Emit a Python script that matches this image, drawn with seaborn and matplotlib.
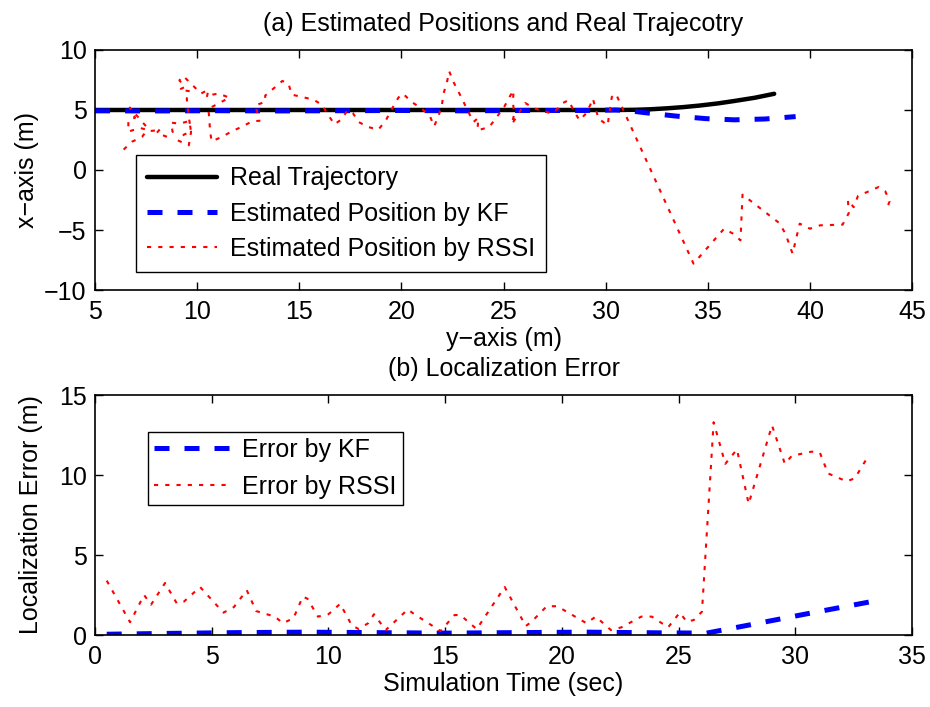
import numpy as np
import pandas as pd
import matplotlib
matplotlib.use("Agg")
import matplotlib.pyplot as plt
import seaborn as sns

# ---------------- data ----------------
# (a) trajectories: horizontal = y-axis (m), vertical = x-axis (m)
real_y = [5, 10, 15, 20, 25, 30, 30.6, 31.5, 32.2, 33.0, 33.8, 34.6, 35.5, 36.3, 37.3, 38.25]
real_x = [5, 5, 5, 5, 5, 5, 5.0, 5.02, 5.06, 5.14, 5.24, 5.37, 5.55, 5.75, 6.02, 6.35]

kf_y = [5, 8, 11, 14, 17, 20, 23, 26, 29, 30.5, 31.2, 31.9, 33.4, 34.9, 36.3, 37.8, 39.3]
kf_x = [4.93, 4.92, 4.94, 4.92, 4.94, 4.96, 4.93, 4.96, 4.96, 5.0, 4.93, 4.78, 4.5, 4.28, 4.18, 4.25, 4.45]

rssi_y = [6.4, 6.8, 7.3, 7.55, 7.2, 6.63, 6.63, 6.96, 6.7, 7.7, 8.0, 8.2, 8.02, 8.55, 8.8,
          8.72, 9.13, 9.62, 9.7, 9.37, 9.05, 9.59, 9.7, 9.62, 9.49, 9.65, 9.13, 9.4, 9.13,
          9.32, 10.19, 10.55, 10.47, 10.76, 11.04, 11.58, 10.55, 10.6, 10.63, 10.71, 11.2,
          11.7, 12.18, 12.7, 13.05, 12.85, 13.33, 13.33, 13.73, 14.17, 14.47, 14.63, 15.15,
          15.69, 16.1, 16.38, 16.72, 17.05, 17.36, 17.62, 17.9, 18.38, 18.87, 19.24, 19.45,
          19.85, 20.07, 20.5, 21.0, 21.4, 21.6, 21.81, 21.98, 22.06, 22.22, 22.34, 22.55,
          22.8, 23.04, 23.28, 23.53, 23.77, 23.72, 24.3, 24.67, 25.03, 25.27, 25.49, 25.46,
          25.52, 25.4, 26.06, 26.55, 27.12, 27.41, 27.9, 28.18, 28.43, 28.72, 29.0, 29.24,
          29.37, 29.65, 30.1, 30.14, 30.3, 30.5, 34.3, 35.8, 36.23, 36.6, 36.7, 38.5, 38.8,
          39.15, 39.5, 40.0, 40.5, 41.6, 41.9, 41.86, 42.14, 42.35, 43.36, 43.69, 43.9, 43.74]
rssi_x = [1.7, 2.35, 2.75, 3.35, 3.5, 3.2, 4.14, 4.36, 5.2, 3.25, 3.3, 3.45, 3.08, 2.75, 3.17,
          3.95, 3.86, 4.08, 3.17, 2.97, 2.47, 2.06, 3.17, 4.08, 5.95, 6.56, 6.7, 6.92, 7.47,
          7.83, 6.37, 6.7, 6.03, 6.28, 6.37, 6.03, 5.1, 4.14, 3.22, 2.39, 2.75,
          3.22, 3.6, 4.06, 4.1, 5.4, 5.67, 6.2, 6.78, 7.42, 7.2, 6.28, 6.08,
          5.86, 5.45, 4.69, 3.8, 4.2, 4.97, 4.75, 4.0, 3.58, 3.36, 4.14, 4.83,
          6.03, 6.37, 5.67, 5.11, 4.47, 3.64, 4.47, 5.39, 6.37, 7.25, 8.22, 7.33,
          6.5, 5.67, 4.83, 4.0, 4.36, 3.3, 3.58, 4.42, 5.25, 6.03, 6.64, 5.67,
          4.64, 3.8, 5.58, 5.11, 4.83, 4.69, 5.58, 5.81, 4.97, 4.14, 4.64, 5.39,
          5.95, 4.28, 3.72, 4.28, 6.08, 6.35, -7.8, -4.89, -5.3, -5.86, -2.05, -4.42, -5.3,
          -6.97, -4.47, -4.89, -4.61, -4.55, -3.6, -2.5, -3.1, -2.17, -1.42, -1.78, -2.6, -3.36]

# (b) localization error over time
kf_t = [0.5, 3, 6, 9, 12, 15, 18, 21, 24, 26.2, 28, 30.4, 33.3]
kf_err = [0.05, 0.1, 0.15, 0.18, 0.15, 0.12, 0.15, 0.18, 0.14, 0.12, 0.62, 1.3, 2.1]

rssi_t = [0.5, 1.5, 2.1, 2.4, 3.0, 3.5, 3.8, 4.5, 5.5, 5.95, 6.5, 6.9, 7.7, 8.05, 8.5, 8.9,
          9.1, 9.55, 10.0, 10.5, 11.0, 11.3, 11.7, 11.95, 12.45, 13.4, 13.65, 14.8, 15.4,
          15.65, 16.35, 17.55, 18.45, 18.7, 19.35, 19.8, 21.05, 21.45, 22.1, 22.55, 23.4,
          23.85, 24.55, 25.05, 25.35, 25.65, 26.0, 26.5, 27.0, 27.5, 28.0, 29.0, 29.55,
          29.85, 30.7, 31.05, 31.4, 32.2, 32.55, 33.05]
rssi_err = [3.4, 0.8, 2.5, 1.9, 3.25, 1.98, 2.08, 3.0, 1.4, 1.75, 2.8, 1.5, 1.15, 0.74, 1.05, 2.4,
            2.27, 1.15, 1.3, 1.95, 0.6, 0.37, 0.74, 1.3, 0.31, 1.6, 1.33, 0.25, 1.25,
            1.25, 0.37, 3.0, 0.56, 0.83, 1.8, 1.8, 0.74, 1.15, 0.31, 0.48, 1.15,
            1.15, 0.48, 1.4, 0.83, 0.94, 1.46, 13.3, 10.7, 11.6, 8.2, 13.1, 10.7,
            11.2, 11.46, 11.4, 10.1, 9.6, 9.8, 11.0]

top_xticks = [5, 10, 15, 20, 25, 30, 35, 40, 45]
top_yticks = [-10, -5, 0, 5, 10]
bot_xticks = [0, 5, 10, 15, 20, 25, 30, 35]
bot_yticks = [0, 5, 10, 15]

# ---------------- style ----------------
sns.set_style("ticks")
plt.rcParams['font.family'] = ['Liberation Sans', 'DejaVu Sans']
plt.rcParams['axes.unicode_minus'] = True
plt.rcParams['text.color'] = 'black'
plt.rcParams['axes.labelcolor'] = 'black'
FS = 18

df_real = pd.DataFrame({"y": real_y, "x": real_x})
df_kf = pd.DataFrame({"y": kf_y, "x": kf_x})
df_rssi = pd.DataFrame({"y": rssi_y, "x": rssi_x})
df_ekf = pd.DataFrame({"t": kf_t, "e": kf_err})
df_erssi = pd.DataFrame({"t": rssi_t, "e": rssi_err})

fig = plt.figure(figsize=(9.3, 7.07), dpi=100)
ax1 = fig.add_axes([0.1022, 0.5898, 0.8785, 0.3395])
ax2 = fig.add_axes([0.1022, 0.1018, 0.8785, 0.3395])

dash_kf = (3.0, 3.0)
dot_rs = (2.0, 3.4)
LW_RS = 1.5

sns.lineplot(data=df_real, x="y", y="x", sort=False, estimator=None, ax=ax1,
             color="black", lw=3.2, label="Real Trajectory")
sns.lineplot(data=df_kf, x="y", y="x", sort=False, estimator=None, ax=ax1,
             color="#0000ff", lw=3.6, label="Estimated Position by KF")
ax1.lines[-1].set_dashes(dash_kf)
sns.lineplot(data=df_rssi, x="y", y="x", sort=False, estimator=None, ax=ax1,
             color="#ff0000", lw=LW_RS, label="Estimated Position by RSSI")
ax1.lines[-1].set_dashes(dot_rs)

sns.lineplot(data=df_ekf, x="t", y="e", sort=False, estimator=None, ax=ax2,
             color="#0000ff", lw=3.6, label="Error by KF")
ax2.lines[-1].set_dashes(dash_kf)
sns.lineplot(data=df_erssi, x="t", y="e", sort=False, estimator=None, ax=ax2,
             color="#ff0000", lw=LW_RS, label="Error by RSSI")
ax2.lines[-1].set_dashes(dot_rs)

for ax, xt, yt in [(ax1, top_xticks, top_yticks), (ax2, bot_xticks, bot_yticks)]:
    ax.set_xlim(xt[0], xt[-1])
    ax.set_ylim(yt[0], yt[-1])
    ax.set_xticks(xt)
    ax.set_yticks(yt)
    ax.tick_params(direction="in", length=6, width=1, labelsize=FS,
                   top=True, right=True, colors="black", labelcolor="black")
    ax.tick_params(axis="x", pad=7)
    ax.tick_params(axis="y", pad=6)
    for s in ax.spines.values():
        s.set_visible(True)
        s.set_linewidth(1.2)
        s.set_color("black")

ax1.set_title("(a) Estimated Positions and Real Trajecotry", fontsize=FS, pad=14, color="black")
ax1.set_xlabel("y\u2212axis (m)", fontsize=FS, labelpad=2)
ax1.set_ylabel("x\u2212axis (m)", fontsize=FS, labelpad=4)
ax2.set_title("(b) Localization Error", fontsize=FS, pad=14, color="black")
ax2.set_xlabel("Simulation Time (sec)", fontsize=FS, labelpad=2)
ax2.set_ylabel("Localization Error (m)", fontsize=FS, labelpad=11.5)

leg1 = ax1.legend(loc="lower left", bbox_to_anchor=(0.05, 0.075), fontsize=FS,
                  frameon=True, fancybox=False, edgecolor="black", framealpha=1,
                  handlelength=2.8, labelspacing=0.45, borderpad=0.45, handletextpad=0.5,
                  borderaxespad=0)
leg1.get_frame().set_linewidth(1.0)
leg2 = ax2.legend(loc="upper left", bbox_to_anchor=(0.065, 0.846), fontsize=FS,
                  frameon=True, fancybox=False, edgecolor="black", framealpha=1,
                  handlelength=3.0, labelspacing=0.5, borderpad=0.25, handletextpad=0.5,
                  borderaxespad=0)
leg2.get_frame().set_linewidth(1.0)

fig.savefig("out.png", dpi=100)
